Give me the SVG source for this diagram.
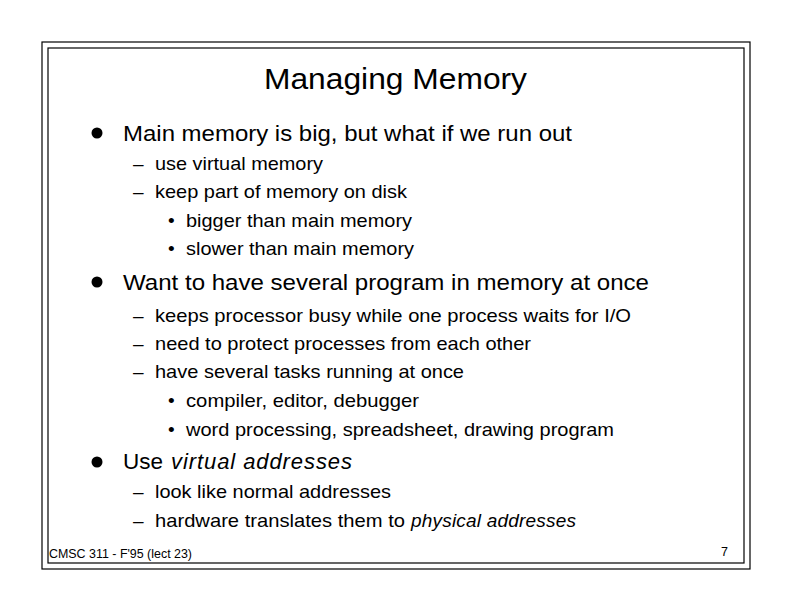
<svg xmlns="http://www.w3.org/2000/svg" width="792" height="612" viewBox="0 0 792 612">
<style>
text{font-family:"Liberation Sans",Arial,Helvetica,sans-serif;fill:#000}
.t{font-size:29px}
.l1{font-size:22px}
.l2{font-size:19px}
.ft{font-size:12.5px}
.it{font-style:italic}
.frame{fill:none;stroke:#000;stroke-width:1.2}
</style>
<rect width="792" height="612" fill="#fff"/>
<rect class="frame" x="42" y="42" width="708" height="527"/>
<rect class="frame" x="48" y="48" width="696" height="515"/>
<text class="t" x="264" y="89" textLength="263" lengthAdjust="spacingAndGlyphs">Managing Memory</text>
<g id="bullets">
<circle cx="97" cy="133" r="5.5"/>
<circle cx="97" cy="282" r="5.5"/>
<circle cx="97" cy="462" r="5.5"/>
</g>
<g id="section1">
<text class="l1" x="123" y="141" textLength="449" lengthAdjust="spacingAndGlyphs">Main memory is big, but what if we run out</text>
<text class="l2" x="133" y="170">–</text>
<text class="l2" x="155" y="170" textLength="168" lengthAdjust="spacingAndGlyphs">use virtual memory</text>
<text class="l2" x="133" y="198">–</text>
<text class="l2" x="155" y="198" textLength="252" lengthAdjust="spacingAndGlyphs">keep part of memory on disk</text>
<text class="l2" x="168" y="227">•</text>
<text class="l2" x="186" y="227" textLength="226" lengthAdjust="spacingAndGlyphs">bigger than main memory</text>
<text class="l2" x="168" y="255">•</text>
<text class="l2" x="186" y="255" textLength="228" lengthAdjust="spacingAndGlyphs">slower than main memory</text>
</g>
<g id="section2">
<text class="l1" x="123" y="290" textLength="526" lengthAdjust="spacingAndGlyphs">Want to have several program in memory at once</text>
<text class="l2" x="133" y="322">–</text>
<text class="l2" x="155" y="322" textLength="476" lengthAdjust="spacingAndGlyphs">keeps processor busy while one process waits for I/O</text>
<text class="l2" x="133" y="350">–</text>
<text class="l2" x="155" y="350" textLength="376" lengthAdjust="spacingAndGlyphs">need to protect processes from each other</text>
<text class="l2" x="133" y="378">–</text>
<text class="l2" x="155" y="378" textLength="309" lengthAdjust="spacingAndGlyphs">have several tasks running at once</text>
<text class="l2" x="168" y="407">•</text>
<text class="l2" x="186" y="407" textLength="233" lengthAdjust="spacingAndGlyphs">compiler, editor, debugger</text>
<text class="l2" x="168" y="436">•</text>
<text class="l2" x="186" y="436" textLength="428" lengthAdjust="spacingAndGlyphs">word processing, spreadsheet, drawing program</text>
</g>
<g id="section3">
<text class="l1" x="123" y="469" textLength="40" lengthAdjust="spacingAndGlyphs">Use</text>
<text class="l1 it" x="171" y="469" textLength="181" lengthAdjust="spacing">virtual addresses</text>
<text class="l2" x="133" y="498">–</text>
<text class="l2" x="155" y="498" textLength="236" lengthAdjust="spacingAndGlyphs">look like normal addresses</text>
<text class="l2" x="133" y="527">–</text>
<text class="l2" x="155" y="527" textLength="250" lengthAdjust="spacingAndGlyphs">hardware translates them to</text>
<text class="l2 it" x="411" y="527" textLength="165" lengthAdjust="spacing">physical addresses</text>
</g>
<g id="footer">
<text class="ft" x="49" y="558" textLength="143" lengthAdjust="spacingAndGlyphs">CMSC 311 - F'95 (lect 23)</text>
<text class="ft" x="721" y="556">7</text>
</g>
</svg>
